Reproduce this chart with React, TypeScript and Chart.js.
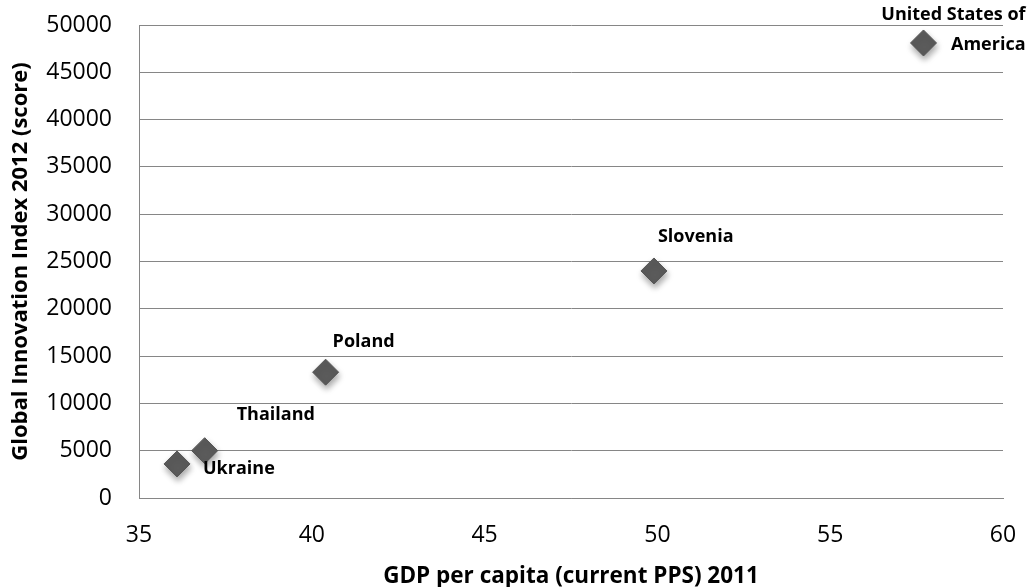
import React, { useEffect, useRef } from "react";
import { Chart, registerables } from "chart.js";

Chart.register(...registerables);

const countries = ["Ukraine", "Thailand", "Poland", "Slovenia", "United States of America"];
const gdpPerCapita = [36.1, 36.9, 40.4, 49.9, 57.7];
const innovationScore = [3600, 5000, 13300, 24000, 48100];
const xTickValues = [35, 40, 45, 50, 55, 60];
const yTickValues = [0, 5000, 10000, 15000, 20000, 25000, 30000, 35000, 40000, 45000, 50000];

// label placement relative to the marker (pixels)
const labelLines: string[][] = [["Ukraine"], ["Thailand"], ["Poland"], ["Slovenia"], ["United States of", "America"]];
const labelDx = [26, 32, 7, 4, 102];
const labelDy = [5, -36, -30, -34, -28];
const labelAlign: CanvasTextAlign[] = ["left", "left", "left", "left", "right"];

const FONT = "'Open Sans', 'Liberation Sans', sans-serif";

export default function App() {
  const ref = useRef<HTMLCanvasElement | null>(null);
  useEffect(() => {
    if (!ref.current) return;
    const labelPlugin = {
      id: "pointLabels",
      beforeDatasetDraw(chart: any) {
        const ctx = chart.ctx;
        ctx.save();
        ctx.shadowColor = "rgba(0,0,0,0.35)";
        ctx.shadowBlur = 6;
        ctx.shadowOffsetX = 1;
        ctx.shadowOffsetY = 4;
      },
      afterDatasetDraw(chart: any) {
        chart.ctx.restore();
      },
      afterDatasetsDraw(chart: any) {
        const ctx = chart.ctx;
        const xs = chart.scales.x;
        const ys = chart.scales.y;
        ctx.save();
        ctx.fillStyle = "#000";
        ctx.font = `bold 18px ${FONT}`;
        ctx.textBaseline = "middle";
        countries.forEach((_, i) => {
          const px = xs.getPixelForValue(gdpPerCapita[i]);
          const py = ys.getPixelForValue(innovationScore[i]);
          ctx.textAlign = labelAlign[i];
          labelLines[i].forEach((line, j) => {
            ctx.fillText(line, px + labelDx[i], py + labelDy[i] + j * 30);
          });
        });
        ctx.restore();
      },
    };
    const chart = new Chart(ref.current, {
      type: "scatter",
      data: {
        datasets: [
          {
            label: "Countries",
            data: gdpPerCapita.map((x, i) => ({ x, y: innovationScore[i] })),
            pointStyle: "rectRot",
            pointRadius: 13,
            pointHoverRadius: 13,
            backgroundColor: "#5b5b5b",
            borderColor: "#555555",
            borderWidth: 1,
          },
        ],
      },
      options: {
        responsive: false,
        animation: false,
        events: [],
        layout: { padding: { left: 0, right: 27, top: 25, bottom: 0 } },
        plugins: { legend: { display: false }, tooltip: { enabled: false } },
        scales: {
          x: {
            type: "linear",
            min: 35,
            max: 60,
            afterBuildTicks: (s: any) => { s.ticks = xTickValues.map((v) => ({ value: v })); },
            afterFit: (s: any) => { s.height = 89; },
            grid: { display: true, drawOnChartArea: false, drawTicks: true, tickLength: 24, tickColor: "rgba(0,0,0,0)" },
            border: { display: true, color: "#868686", width: 1 },
            ticks: { color: "#000", font: { family: FONT, size: 23 }, padding: 0, maxRotation: 0 },
            title: {
              display: true,
              text: "GDP per capita (current PPS) 2011",
              color: "#000",
              font: { family: FONT, size: 22.5, weight: "bold" },
              padding: { top: 0, bottom: -3 },
            },
          },
          y: {
            type: "linear",
            min: 0,
            max: 50000,
            afterBuildTicks: (s: any) => { s.ticks = yTickValues.map((v) => ({ value: v })); },
            afterFit: (s: any) => { s.width = 139; },
            grid: { color: "#868686", lineWidth: 1, drawTicks: true, tickLength: 27, tickColor: "rgba(0,0,0,0)" },
            border: { display: true, color: "#868686", width: 1 },
            ticks: { color: "#000", font: { family: FONT, size: 23 }, padding: 0, callback: (v: any) => String(v) },
            title: {
              display: true,
              text: "Global Innovation Index 2012 (score)",
              color: "#000",
              font: { family: FONT, size: 22, weight: "bold" },
              padding: { top: 8, bottom: 0 },
            },
          },
        },
      },
      plugins: [labelPlugin],
    });
    return () => chart.destroy();
  }, []);
  return (
    <div style={{ position: "absolute", left: 0, top: 0, width: 1030, height: 587, background: "#fff" }}>
      <canvas ref={ref} width={1030} height={587} />
    </div>
  );
}
